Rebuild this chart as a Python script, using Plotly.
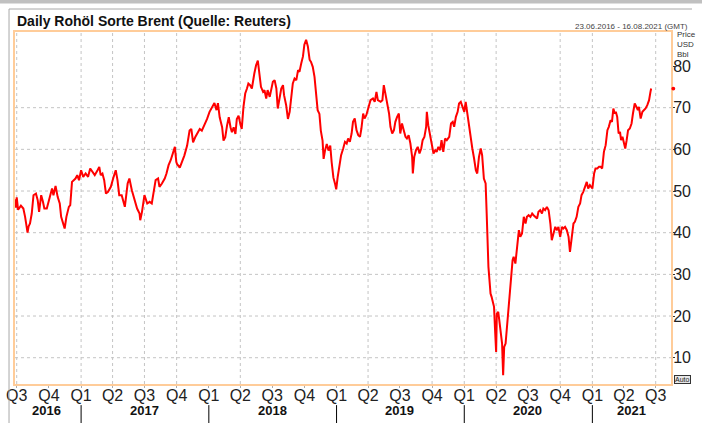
import plotly.graph_objects as go

# ---------------- data ----------------
DATES = [
"2016-06-25","2016-06-29","2016-07-01","2016-07-05","2016-07-13","2016-07-20","2016-07-25","2016-08-01","2016-08-04","2016-08-08",
"2016-08-13","2016-08-18","2016-08-25","2016-08-30","2016-09-03","2016-09-09","2016-09-14","2016-09-18","2016-09-25","2016-10-03",
"2016-10-10","2016-10-14","2016-10-20","2016-10-26","2016-11-01","2016-11-05","2016-11-10","2016-11-15","2016-11-20","2016-11-27",
"2016-12-01","2016-12-06","2016-12-11","2016-12-16","2016-12-21","2016-12-26","2017-01-01","2017-01-07","2017-01-14","2017-01-21",
"2017-01-27","2017-02-02","2017-02-09","2017-02-17","2017-02-22","2017-02-26","2017-03-03","2017-03-08","2017-03-13","2017-03-19",
"2017-03-27","2017-04-04","2017-04-10","2017-04-15","2017-04-20","2017-04-27","2017-05-02","2017-05-06","2017-05-14","2017-05-19",
"2017-05-26","2017-06-02","2017-06-10","2017-06-17","2017-06-19","2017-06-24","2017-07-01","2017-07-09","2017-07-16","2017-07-22",
"2017-07-28","2017-08-02","2017-08-09","2017-08-13","2017-08-20","2017-08-28","2017-09-02","2017-09-08","2017-09-14","2017-09-21",
"2017-09-26","2017-09-30","2017-10-02","2017-10-10","2017-10-16","2017-10-23","2017-10-31","2017-11-07","2017-11-12","2017-11-17",
"2017-11-23","2017-11-30","2017-12-06","2017-12-12","2017-12-19","2017-12-27","2018-01-03","2018-01-10","2018-01-17","2018-01-23",
"2018-01-27","2018-02-01","2018-02-08","2018-02-12","2018-02-17","2018-02-22","2018-02-27","2018-03-04","2018-03-08","2018-03-13",
"2018-03-18","2018-03-22","2018-03-27","2018-04-01","2018-04-05","2018-04-10","2018-04-15","2018-04-20","2018-04-24","2018-04-29",
"2018-05-04","2018-05-11","2018-05-16","2018-05-21","2018-05-26","2018-05-30","2018-06-05","2018-06-09","2018-06-14","2018-06-18",
"2018-06-24","2018-06-28","2018-07-03","2018-07-08","2018-07-13","2018-07-17","2018-07-22","2018-07-27","2018-08-01","2018-08-04",
"2018-08-10","2018-08-15","2018-08-20","2018-08-24","2018-08-29","2018-09-03","2018-09-08","2018-09-13","2018-09-17","2018-09-22",
"2018-09-27","2018-10-01","2018-10-06","2018-10-11","2018-10-16","2018-10-20","2018-10-25","2018-10-30","2018-11-04","2018-11-08",
"2018-11-13","2018-11-17","2018-11-22","2018-11-25","2018-11-29","2018-12-04","2018-12-09","2018-12-14","2018-12-18","2018-12-23",
"2018-12-28","2018-12-31","2019-01-04","2019-01-09","2019-01-14","2019-01-20","2019-01-25","2019-01-30","2019-02-03","2019-02-08",
"2019-02-13","2019-02-17","2019-02-22","2019-02-27","2019-03-04","2019-03-09","2019-03-13","2019-03-18","2019-03-22","2019-03-27",
"2019-04-01","2019-04-08","2019-04-15","2019-04-20","2019-04-25","2019-04-29","2019-05-07","2019-05-12","2019-05-16","2019-05-21",
"2019-05-26","2019-05-31","2019-06-04","2019-06-09","2019-06-14","2019-06-18","2019-06-23","2019-06-28","2019-07-02","2019-07-07",
"2019-07-12","2019-07-17","2019-07-21","2019-07-26","2019-07-31","2019-08-05","2019-08-07","2019-08-11","2019-08-16","2019-08-21",
"2019-08-26","2019-08-31","2019-09-04","2019-09-09","2019-09-14","2019-09-16","2019-09-20","2019-09-25","2019-09-30","2019-10-05",
"2019-10-10","2019-10-14","2019-10-19","2019-10-24","2019-10-28","2019-11-02","2019-11-07","2019-11-12","2019-11-19","2019-11-24",
"2019-11-29","2019-12-03","2019-12-08","2019-12-13","2019-12-17","2019-12-22","2019-12-27","2020-01-01","2020-01-05","2020-01-10",
"2020-01-15","2020-01-19","2020-01-24","2020-01-29","2020-02-03","2020-02-07","2020-02-12","2020-02-17","2020-02-21","2020-02-26",
"2020-03-02","2020-03-05","2020-03-07","2020-03-10","2020-03-13","2020-03-16","2020-03-19","2020-03-23","2020-03-26","2020-03-29",
"2020-04-01","2020-04-03","2020-04-07","2020-04-10","2020-04-14","2020-04-18","2020-04-21","2020-04-24","2020-04-28","2020-05-02",
"2020-05-05","2020-05-09","2020-05-13","2020-05-18","2020-05-21","2020-05-26","2020-05-31","2020-06-05","2020-06-09","2020-06-14",
"2020-06-19","2020-06-24","2020-06-28","2020-07-03","2020-07-08","2020-07-13","2020-07-17","2020-07-22","2020-07-27","2020-07-31",
"2020-08-05","2020-08-10","2020-08-14","2020-08-19","2020-08-24","2020-08-29","2020-09-03","2020-09-07","2020-09-12","2020-09-17",
"2020-09-22","2020-09-26","2020-10-01","2020-10-06","2020-10-10","2020-10-15","2020-10-20","2020-10-25","2020-10-29","2020-11-03",
"2020-11-08","2020-11-12","2020-11-17","2020-11-22","2020-11-27","2020-12-01","2020-12-06","2020-12-11","2020-12-16","2020-12-20",
"2020-12-25","2021-01-01","2021-01-06","2021-01-10","2021-01-15","2021-01-20","2021-01-25","2021-01-29","2021-02-03","2021-02-08",
"2021-02-13","2021-02-17","2021-02-22","2021-02-26","2021-03-02","2021-03-06","2021-03-09","2021-03-13","2021-03-17","2021-03-21",
"2021-03-24","2021-03-28","2021-04-01","2021-04-05","2021-04-09","2021-04-13","2021-04-18","2021-04-23","2021-04-27","2021-05-02",
"2021-05-07","2021-05-11","2021-05-14","2021-05-19","2021-05-24","2021-05-29","2021-06-02","2021-06-07","2021-06-12","2021-06-16",
"2021-06-18",
]
PRICES = [
48.0,46.0,48.5,45.5,46.5,45.8,43.8,40.0,41.5,42.2,
44.6,49.0,49.4,47.8,45.0,49.0,47.4,45.8,45.8,48.6,
50.6,49.0,51.2,48.6,47.0,43.8,42.6,41.0,43.8,46.2,
46.6,52.2,52.6,53.0,53.8,52.6,55.0,53.4,54.2,53.4,
55.4,54.6,53.8,55.0,55.8,53.8,54.2,52.6,49.4,49.8,
51.0,53.4,55.0,52.6,49.0,49.0,47.0,46.2,51.8,53.0,
50.2,47.8,45.8,44.6,43.0,45.0,49.0,47.0,47.4,47.0,
49.8,52.6,53.0,51.0,51.8,53.0,54.2,56.2,57.4,59.4,
60.6,57.0,56.5,55.6,56.9,58.5,60.9,64.5,64.9,61.7,
62.9,64.1,64.9,64.5,65.7,67.3,69.0,70.2,71.1,69.4,
71.1,67.7,65.3,62.1,62.9,65.7,67.7,65.3,64.1,65.3,
63.7,67.3,68.1,66.1,64.9,70.2,73.4,74.6,75.8,75.4,
74.6,78.2,80.2,81.3,78.2,75.0,73.8,74.2,72.2,74.2,
72.6,74.2,76.2,76.6,74.6,69.8,71.8,74.6,75.4,73.0,
70.6,67.3,69.0,72.6,75.8,77.0,76.6,79.0,78.6,80.6,
82.3,85.1,86.3,84.7,81.5,81.0,79.8,77.4,71.8,69.4,
68.5,64.5,62.1,57.7,59.7,61.3,59.7,60.9,56.9,53.2,
51.6,50.4,53.2,56.5,58.6,60.2,61.8,61.4,62.6,61.8,
63.8,66.6,67.4,64.6,63.4,63.0,65.0,68.6,67.4,68.2,
69.8,71.8,72.2,71.4,73.8,71.8,71.4,71.8,75.4,73.0,
71.0,68.6,65.4,63.8,64.6,66.6,67.8,68.6,63.8,66.2,
64.6,63.0,62.6,63.4,61.4,58.2,54.2,58.2,59.8,60.6,
59.0,60.2,62.2,63.0,65.4,69.0,65.8,63.4,60.6,59.0,
59.8,59.4,60.6,59.8,62.2,59.4,62.6,62.2,63.0,66.2,
66.6,65.4,67.8,69.0,71.0,71.4,70.2,69.0,71.4,68.2,
65.4,62.2,60.2,57.8,55.0,54.2,58.2,60.2,58.6,53.0,
51.8,44.6,35.8,31.8,28.6,25.4,24.6,23.4,22.2,16.6,
11.4,20.6,21.0,19.0,15.8,13.4,5.8,12.6,13.4,17.4,
21.4,23.8,28.6,33.4,34.2,32.6,36.6,40.6,39.0,39.8,
43.8,42.2,43.8,44.2,43.8,44.6,44.2,43.8,43.4,45.0,
45.4,44.6,45.8,45.4,46.2,45.4,42.2,38.2,40.2,41.4,
40.6,41.4,39.0,41.4,41.0,41.4,40.6,39.0,35.4,39.0,
42.2,42.6,43.8,46.2,47.0,49.0,49.8,51.0,52.2,50.6,
51.4,50.6,54.2,55.4,55.4,55.8,55.8,55.4,59.4,61.0,
64.6,65.4,67.0,66.6,69.8,68.6,69.0,67.8,63.8,64.2,
62.2,63.0,61.8,60.2,62.2,64.6,65.0,66.2,68.6,71.0,
70.2,69.4,70.2,67.4,69.0,69.4,69.8,70.6,71.8,73.8,
74.6,
]

Q_TICK_DATES = ["2016-07-01","2016-10-01","2017-01-01","2017-04-01","2017-07-01","2017-10-01",
                "2018-01-01","2018-04-01","2018-07-01","2018-10-01","2019-01-01","2019-04-01",
                "2019-07-01","2019-10-01","2020-01-01","2020-04-01","2020-07-01","2020-10-01",
                "2021-01-01","2021-04-01","2021-07-01"]
Q_TICK_TEXT = ["Q3","Q4","Q1","Q2","Q3","Q4","Q1","Q2","Q3","Q4","Q1","Q2",
               "Q3","Q4","Q1","Q2","Q3","Q4","Q1","Q2","Q3"]
GRID_X_DATES = ["2016-07-01","2017-01-01","2017-04-01","2017-07-01","2017-10-01","2018-04-01",
                "2019-04-01","2019-10-01","2020-01-01","2020-04-01","2020-10-01","2021-01-01",
                "2021-07-01"]
GRID_Y_VALUES = [10, 20, 30, 40, 50, 60, 70]
Y_TICKS = [10, 20, 30, 40, 50, 60, 70, 80]
YEARS = ["2016", "2017", "2018", "2019", "2020", "2021"]
YEAR_LABEL_DATES = ["2016-09-25", "2017-07-01", "2018-07-01", "2019-07-01", "2020-07-01", "2021-04-23"]
YEAR_BREAKS = ["2017-01-01", "2018-01-01", "2019-01-01", "2020-01-01", "2021-01-01"]

TITLE = "Daily Rohöl Sorte Brent (Quelle: Reuters)"
RANGE_TEXT = "23.06.2016 - 16.08.2021 (GMT)"
UNIT_LINES = ["Price", "USD", "Bbl"]

X_RANGE = ["2016-06-26 03:00", "2021-08-13 17:00"]
Y_RANGE = [3.69, 88.16]

# ---------------- figure ----------------
NARROW = "Liberation Sans Narrow, Arial Narrow, Liberation Sans, Arial, sans-serif"
SANS = "Liberation Sans, Arial, sans-serif"
BORDER = "#FFCC99"
GRID = "#C4C4C4"

fig = go.Figure()
fig.add_trace(go.Scatter(x=DATES, y=PRICES, mode="lines",
                         line=dict(color="#FF0000", width=2), hoverinfo="skip",
                         showlegend=False))

shapes = []
for d in GRID_X_DATES:
    shapes.append(dict(type="line", xref="x", yref="paper", x0=d, x1=d, y0=0, y1=1,
                       line=dict(color=GRID, width=1, dash="dot"), layer="below"))
for v in GRID_Y_VALUES:
    shapes.append(dict(type="line", xref="paper", yref="y", x0=0, x1=1, y0=v, y1=v,
                       line=dict(color=GRID, width=1, dash="dot"), layer="below"))
for d in YEAR_BREAKS:
    shapes.append(dict(type="line", xref="x", yref="paper", x0=d, x1=d, y0=-0.060, y1=-0.115,
                       line=dict(color="#000000", width=1)))
# outer frame of the widget
shapes.append(dict(type="rect", xref="paper", yref="paper", x0=-0.03, x1=1.06, y0=1.081, y1=1.10,
                   fillcolor="#C0C0C0", line=dict(width=0)))
shapes.append(dict(type="line", xref="paper", yref="paper", x0=-0.0091, x1=1.032, y0=1.0653, y1=1.0653,
                   line=dict(color="#A8A8A8", width=1)))
shapes.append(dict(type="line", xref="paper", yref="paper", x0=-0.0091, x1=-0.0091, y0=1.0653, y1=-0.12,
                   line=dict(color="#A8A8A8", width=1)))
# last-price marker on the value axis
last = PRICES[-1]
shapes.append(dict(type="circle", xref="paper", yref="y", x0=1.0005, x1=1.0065,
                   y0=last - 0.45, y1=last + 0.45, fillcolor="#FF0000", line=dict(width=0)))

annotations = [
    dict(text=TITLE, xref="paper", yref="paper", x=0.0, y=1.0313, xanchor="left", yanchor="middle",
         showarrow=False, font=dict(family=SANS, size=14, color="#111111", weight="bold")),
    dict(text=RANGE_TEXT, xref="paper", yref="paper", x=1.029, y=1.017, xanchor="right", yanchor="middle",
         showarrow=False, font=dict(family=NARROW, size=8, color="#444444")),
    dict(text="Auto", xref="paper", yref="paper", x=1.0175, y=0.0127, xanchor="center", yanchor="middle",
         showarrow=False, font=dict(family=NARROW, size=7, color="#222222"),
         bordercolor="#333333", borderwidth=1, borderpad=0, bgcolor="#E8E8E8"),
]
for i, t in enumerate(UNIT_LINES):
    annotations.append(dict(text=t, xref="paper", yref="paper", x=1.0061, y=0.9915 - i * 0.0270,
                            xanchor="left", yanchor="middle", showarrow=False,
                            font=dict(family=NARROW, size=8, color="#333333")))
for yr, d in zip(YEARS, YEAR_LABEL_DATES):
    annotations.append(dict(text=yr, xref="x", yref="paper", x=d, y=-0.0767, xanchor="center",
                            yanchor="middle", showarrow=False,
                            font=dict(family=SANS, size=13, color="#111111", weight="bold")))

fig.update_layout(
    width=702, height=423,
    margin=dict(l=15, r=31, t=32, b=39, autoexpand=False),
    paper_bgcolor="white", plot_bgcolor="white",
    shapes=shapes, annotations=annotations,
    xaxis=dict(type="date", range=X_RANGE, tickvals=Q_TICK_DATES, ticktext=Q_TICK_TEXT,
               showgrid=False, zeroline=False, showline=True, mirror=True,
               linecolor=BORDER, linewidth=2, ticks="outside", ticklen=2, tickcolor="#AAAAAA",
               ticklabelstandoff=-6,
               tickfont=dict(family=NARROW, size=16, color="#222222"), fixedrange=True),
    yaxis=dict(range=Y_RANGE, side="right", tickvals=Y_TICKS, showgrid=False, zeroline=False,
               showline=True, mirror=True, linecolor=BORDER, linewidth=2,
               ticks="outside", ticklen=2, tickcolor="#333333",
               ticklabelstandoff=-5,
               tickfont=dict(family=NARROW, size=16, color="#222222"), fixedrange=True),
)

fig.write_html("out.html", config={"displayModeBar": False},
               post_script="document.body.style.margin='0';document.body.style.padding='0';")
